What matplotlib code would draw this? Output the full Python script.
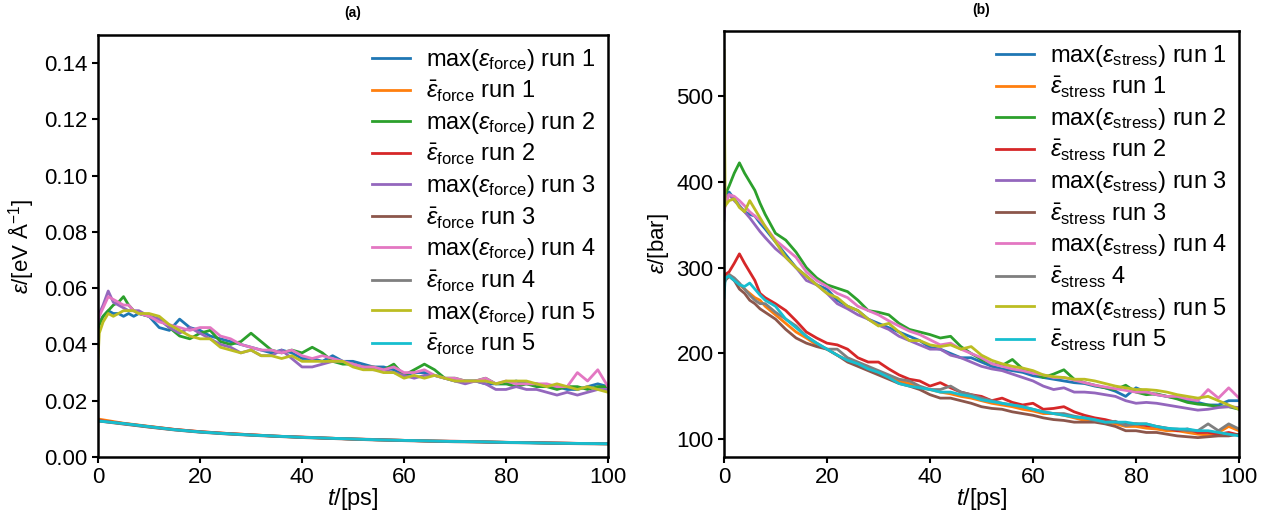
import numpy as np
import matplotlib
matplotlib.use("Agg")
import matplotlib.pyplot as plt

plt.rcParams['font.family'] = ['Liberation Sans', 'DejaVu Sans']
plt.rcParams['mathtext.fontset'] = 'custom'
plt.rcParams['mathtext.rm'] = 'Liberation Sans'
plt.rcParams['mathtext.it'] = 'Liberation Sans:italic'
plt.rcParams['mathtext.bf'] = 'Liberation Sans:bold'

# time grid (ps), finer at the start
t = [0, 0.25, 1, 2, 3, 4, 5, 6, 7, 8,
     10, 12, 14, 16, 18, 20, 22, 24, 26, 28,
     30, 32, 34, 36, 38, 40, 42, 44, 46, 48,
     50, 52, 54, 56, 58, 60, 62, 64, 66, 68,
     70, 72, 74, 76, 78, 80, 82, 84, 86, 88,
     90, 92, 94, 96, 98, 100]
t_mean = [0, 5, 10, 15, 20, 25, 30, 35, 40, 45, 50,
          55, 60, 65, 70, 75, 80, 85, 90, 95, 100]

# (a) force errors [eV/A]
force_max_1 = [0.046, 0.048, 0.050, 0.052, 0.051, 0.051, 0.050, 0.051, 0.050, 0.051,
               0.050, 0.046, 0.045, 0.049, 0.046, 0.045, 0.043, 0.042, 0.041, 0.040,
               0.039, 0.038, 0.037, 0.038, 0.037, 0.035, 0.035, 0.034, 0.036, 0.034,
               0.034, 0.033, 0.032, 0.032, 0.031, 0.029, 0.030, 0.030, 0.029, 0.028,
               0.027, 0.027, 0.027, 0.026, 0.026, 0.026, 0.027, 0.026, 0.026, 0.025,
               0.025, 0.024, 0.024, 0.025, 0.026, 0.025]
force_max_2 = [0.045, 0.047, 0.050, 0.052, 0.054, 0.055, 0.057, 0.054, 0.052, 0.051,
               0.050, 0.049, 0.046, 0.043, 0.042, 0.044, 0.045, 0.041, 0.040, 0.041,
               0.044, 0.041, 0.038, 0.037, 0.038, 0.037, 0.039, 0.037, 0.034, 0.033,
               0.033, 0.032, 0.032, 0.031, 0.033, 0.029, 0.031, 0.033, 0.031, 0.028,
               0.028, 0.027, 0.027, 0.028, 0.026, 0.026, 0.025, 0.026, 0.025, 0.025,
               0.024, 0.025, 0.025, 0.024, 0.025, 0.025]
force_max_3 = [0.049, 0.051, 0.054, 0.059, 0.055, 0.054, 0.053, 0.052, 0.052, 0.052,
               0.050, 0.049, 0.046, 0.044, 0.046, 0.044, 0.042, 0.040, 0.039, 0.037,
               0.038, 0.036, 0.036, 0.038, 0.035, 0.032, 0.032, 0.033, 0.034, 0.034,
               0.033, 0.032, 0.031, 0.031, 0.030, 0.029, 0.028, 0.029, 0.029, 0.028,
               0.027, 0.026, 0.027, 0.026, 0.024, 0.024, 0.025, 0.024, 0.024, 0.023,
               0.022, 0.023, 0.022, 0.023, 0.024, 0.024]
force_max_4 = [0.048, 0.050, 0.053, 0.057, 0.056, 0.055, 0.054, 0.054, 0.052, 0.051,
               0.050, 0.048, 0.047, 0.046, 0.045, 0.046, 0.046, 0.043, 0.042, 0.040,
               0.039, 0.038, 0.038, 0.037, 0.038, 0.036, 0.035, 0.036, 0.035, 0.034,
               0.033, 0.032, 0.032, 0.031, 0.032, 0.030, 0.030, 0.031, 0.029, 0.028,
               0.028, 0.027, 0.027, 0.028, 0.026, 0.027, 0.026, 0.026, 0.026, 0.026,
               0.025, 0.025, 0.030, 0.027, 0.031, 0.025]
force_max_5 = [0.035, 0.044, 0.048, 0.051, 0.050, 0.051, 0.052, 0.052, 0.052, 0.051,
               0.051, 0.050, 0.047, 0.045, 0.043, 0.042, 0.042, 0.039, 0.038, 0.037,
               0.038, 0.036, 0.036, 0.035, 0.036, 0.034, 0.034, 0.034, 0.034, 0.034,
               0.032, 0.031, 0.031, 0.030, 0.030, 0.028, 0.029, 0.028, 0.029, 0.028,
               0.027, 0.027, 0.027, 0.027, 0.026, 0.027, 0.027, 0.027, 0.026, 0.025,
               0.026, 0.025, 0.024, 0.025, 0.024, 0.023]
force_mean_1 = [0.0135, 0.0120, 0.0109, 0.0098, 0.0090, 0.0084, 0.0079, 0.0074, 0.0070, 0.0067,
                0.0064, 0.0061, 0.0059, 0.0057, 0.0055, 0.0054, 0.0052, 0.0051, 0.0049, 0.0048, 0.0047]
force_mean_2 = [0.0130, 0.0119, 0.0108, 0.0098, 0.0090, 0.0084, 0.0079, 0.0074, 0.0071, 0.0067,
                0.0064, 0.0062, 0.0059, 0.0057, 0.0056, 0.0054, 0.0052, 0.0051, 0.0050, 0.0048, 0.0048]
force_mean_3 = [0.0128, 0.0117, 0.0106, 0.0096, 0.0088, 0.0082, 0.0077, 0.0073, 0.0069, 0.0066,
                0.0063, 0.0060, 0.0058, 0.0056, 0.0054, 0.0053, 0.0051, 0.0050, 0.0048, 0.0047, 0.0046]
force_mean_4 = [0.0129, 0.0118, 0.0107, 0.0097, 0.0089, 0.0083, 0.0078, 0.0074, 0.0070, 0.0067,
                0.0064, 0.0061, 0.0059, 0.0057, 0.0055, 0.0054, 0.0052, 0.0051, 0.0049, 0.0048, 0.0047]
force_mean_5 = [0.0128, 0.0119, 0.0108, 0.0097, 0.0089, 0.0083, 0.0078, 0.0074, 0.0070, 0.0067,
                0.0064, 0.0061, 0.0059, 0.0057, 0.0055, 0.0054, 0.0052, 0.0050, 0.0049, 0.0048, 0.0047]

# (b) stress errors [bar]
stress_max_1 = [370, 385, 388, 380, 372, 365, 362, 360, 352, 345,
                330, 315, 300, 290, 280, 275, 262, 255, 250, 240,
                235, 230, 225, 220, 215, 207, 205, 200, 195, 195,
                190, 185, 182, 180, 178, 174, 172, 170, 168, 166,
                165, 162, 160, 156, 150, 160, 155, 152, 150, 148,
                145, 143, 140, 140, 145, 145]
stress_max_2 = [380, 385, 395, 410, 422, 410, 400, 390, 375, 362,
                340, 332, 318, 300, 288, 280, 276, 272, 262, 250,
                248, 245, 235, 228, 225, 222, 218, 220, 208, 200,
                193, 188, 186, 193, 182, 178, 172, 176, 181, 170,
                166, 163, 160, 158, 163, 155, 152, 153, 150, 147,
                143, 141, 140, 138, 138, 135]
stress_max_3 = [355, 382, 385, 378, 372, 365, 358, 350, 342, 335,
                322, 312, 300, 285, 280, 270, 258, 252, 245, 240,
                233, 228, 220, 215, 210, 205, 205, 198, 195, 190,
                185, 182, 180, 176, 172, 168, 162, 158, 160, 155,
                155, 154, 152, 150, 145, 142, 143, 142, 140, 138,
                136, 134, 135, 137, 138, 137]
stress_max_4 = [365, 372, 385, 383, 378, 372, 365, 360, 355, 348,
                332, 322, 312, 295, 285, 278, 270, 265, 255, 250,
                245, 238, 232, 226, 222, 216, 210, 212, 205, 200,
                195, 188, 185, 182, 180, 177, 175, 172, 172, 169,
                166, 163, 161, 159, 157, 155, 155, 152, 150, 150,
                147, 145, 158, 148, 160, 148]
stress_max_5 = [553, 372, 378, 380, 370, 365, 378, 368, 358, 348,
                330, 312, 300, 290, 280, 270, 265, 255, 250, 240,
                232, 235, 225, 215, 215, 210, 208, 210, 205, 208,
                198, 192, 188, 185, 183, 180, 175, 173, 172, 170,
                170, 168, 165, 162, 160, 158, 158, 157, 155, 152,
                150, 148, 150, 145, 140, 135]
stress_mean_1 = [285, 290, 292, 285, 280, 275, 270, 265, 262, 255,
                 245, 235, 225, 218, 210, 205, 198, 192, 188, 182,
                 178, 172, 168, 165, 160, 158, 155, 153, 150, 148,
                 145, 142, 140, 138, 135, 133, 130, 130, 128, 125,
                 122, 122, 120, 118, 115, 115, 113, 112, 110, 110,
                 108, 106, 105, 108, 115, 110]
stress_mean_2 = [290, 292, 295, 305, 316, 305, 295, 285, 270, 265,
                 258, 250, 238, 225, 218, 212, 210, 205, 195, 190,
                 190, 182, 175, 170, 168, 162, 166, 160, 155, 152,
                 150, 145, 148, 143, 140, 142, 135, 136, 138, 132,
                 128, 125, 123, 120, 118, 118, 116, 115, 113, 110,
                 112, 108, 108, 106, 108, 105]
stress_mean_3 = [280, 285, 290, 285, 275, 270, 262, 258, 252, 248,
                 240, 228, 218, 212, 208, 205, 198, 190, 185, 180,
                 175, 170, 165, 162, 158, 152, 148, 148, 145, 142,
                 138, 136, 135, 132, 130, 128, 125, 123, 122, 120,
                 120, 120, 118, 115, 110, 110, 108, 108, 106, 104,
                 103, 102, 103, 104, 104, 106]
stress_mean_4 = [280, 286, 292, 288, 282, 275, 268, 262, 258, 258,
                 248, 240, 232, 220, 212, 205, 205, 195, 190, 185,
                 180, 175, 170, 168, 162, 158, 158, 162, 155, 152,
                 148, 145, 142, 140, 138, 135, 132, 130, 130, 127,
                 125, 122, 120, 121, 116, 118, 118, 115, 112, 112,
                 110, 110, 118, 110, 118, 112]
stress_mean_5 = [265, 288, 290, 285, 280, 278, 282, 275, 268, 262,
                 255, 240, 230, 220, 212, 205, 198, 192, 188, 182,
                 178, 172, 165, 162, 160, 158, 155, 155, 152, 150,
                 146, 144, 142, 140, 138, 135, 132, 130, 128, 126,
                 125, 123, 120, 120, 120, 118, 118, 115, 113, 112,
                 112, 110, 110, 108, 106, 104]

force_max = [force_max_1, force_max_2, force_max_3, force_max_4, force_max_5]
force_mean = [force_mean_1, force_mean_2, force_mean_3, force_mean_4, force_mean_5]
stress_max = [stress_max_1, stress_max_2, stress_max_3, stress_max_4, stress_max_5]
stress_mean = [stress_mean_1, stress_mean_2, stress_mean_3, stress_mean_4, stress_mean_5]

colors = plt.rcParams['axes.prop_cycle'].by_key()['color']

fig = plt.figure(figsize=(12.73, 5.2), dpi=100)
ax1 = fig.add_axes([0.0770, 0.1212, 0.4006, 0.8115])
ax2 = fig.add_axes([0.5687, 0.1212, 0.4046, 0.8192])

for i in range(5):
    ax1.plot(t, force_max[i], color=colors[2 * i], lw=2,
             label=r'max($\varepsilon_{\mathrm{force}}$) run %d' % (i + 1))
    ax1.plot(t_mean, force_mean[i], color=colors[2 * i + 1], lw=2,
             label=r'$\bar{\varepsilon}_{\mathrm{force}}$ run %d' % (i + 1))

stress_mean_labels = [r'$\bar{\varepsilon}_{\mathrm{stress}}$ run 1',
                      r'$\bar{\varepsilon}_{\mathrm{stress}}$ run 2',
                      r'$\bar{\varepsilon}_{\mathrm{stress}}$ run 3',
                      r'$\bar{\varepsilon}_{\mathrm{stress}}$ 4',
                      r'$\bar{\varepsilon}_{\mathrm{stress}}$ run 5']
for i in range(5):
    ax2.plot(t, stress_max[i], color=colors[2 * i], lw=2,
             label=r'max($\varepsilon_{\mathrm{stress}}$) run %d' % (i + 1))
    ax2.plot(t, stress_mean[i], color=colors[2 * i + 1], lw=2,
             label=stress_mean_labels[i])

ax1.set_xlim(0, 100)
ax1.set_ylim(0, 0.15)
ax1.set_yticks([0.0, 0.02, 0.04, 0.06, 0.08, 0.10, 0.12, 0.14])
ax2.set_xlim(0, 100)
ax2.set_yticks([100, 200, 300, 400, 500])

ax1.set_ylabel(r'$\varepsilon$/[eV Å$^{-1}$]', fontsize=16)
ax2.set_ylabel(r'$\varepsilon$/[bar]', fontsize=16)
ax1.yaxis.set_label_coords(-0.122, 0.5)
ax2.yaxis.set_label_coords(-0.103, 0.5)
for ax in (ax1, ax2):
    ax.set_xlabel(r'$t$/[ps]', fontsize=17, labelpad=-2)
    ax.tick_params(labelsize=16, width=1.5, length=4.5, pad=3)
    for s in ax.spines.values():
        s.set_linewidth(1.8)
    ax.legend(loc='upper right', frameon=False, fontsize=17,
              handlelength=1.6, handletextpad=0.7, labelspacing=0.25,
              borderaxespad=0.1, borderpad=0.4)

ax1.set_title('(a)', fontsize=10, fontweight='bold', pad=13)
ax2.set_title('(b)', fontsize=10, fontweight='bold', pad=12)

fig.savefig('out.png', dpi=100)
